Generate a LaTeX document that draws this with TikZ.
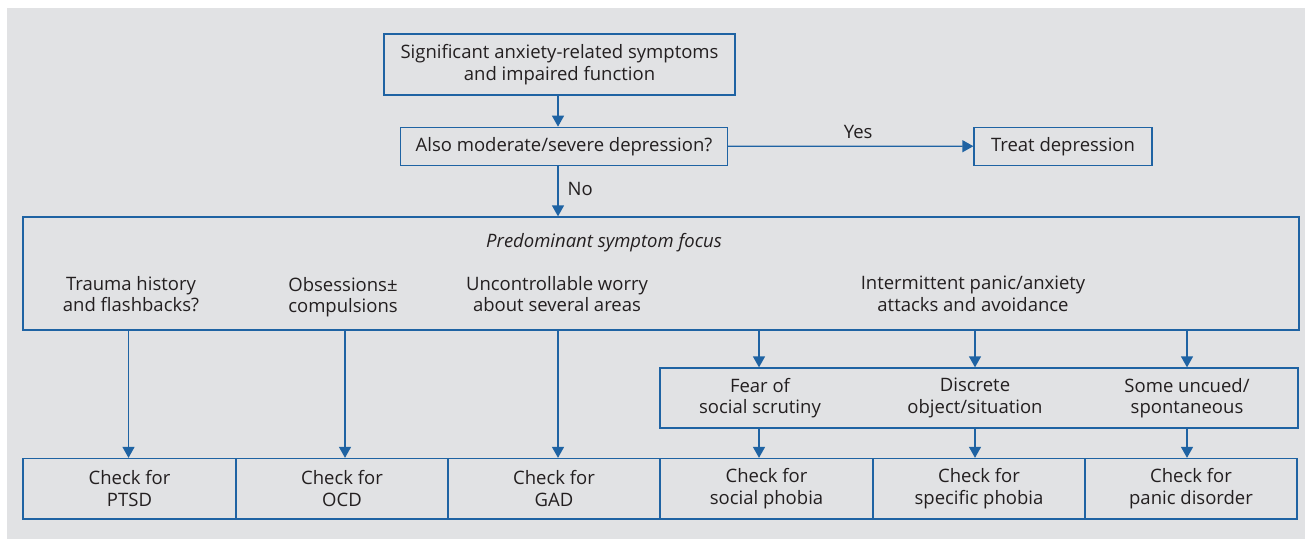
\documentclass[tikz,border=0pt]{standalone}
\usepackage{fontspec}
\setmainfont{Open Sans}
\usetikzlibrary{arrows.meta}
\definecolor{bgc}{HTML}{E1E2E4}
\definecolor{lnc}{HTML}{1F63A3}
\definecolor{txc}{HTML}{231F20}
\tikzset{
  box/.style={draw=lnc, line width=1.3pt, text=txc, align=center, inner sep=0pt, font=\fontsize{18.5}{21.5}\selectfont},
  lbl/.style={text=txc, align=center, inner sep=0pt, font=\fontsize{18.5}{21.5}\selectfont},
  arr/.style={draw=lnc, line width=1.3pt, -{Triangle[length=11pt,width=12pt]}},
}
\begin{document}
\begin{tikzpicture}[x=1pt,y=-1pt]
\useasboundingbox (0,0) rectangle (1305,539);
\fill[bgc] (7,8) rectangle (1305,539);
% top
\node[box, minimum width=351pt, minimum height=61pt] (top) at (559.5,64.4) {Significant anxiety-related symptoms\\and impaired function};
\node[box, minimum width=327pt, minimum height=38pt] (dep) at (564,146.3) {Also moderate/severe depression?};
\node[box, minimum width=178pt, minimum height=38pt] (treat) at (1063,146.2) {Treat depression};
\node[box, minimum width=1276pt, minimum height=113pt] (big) at (661,273.5) {};
\node[lbl, font=\fontsize{18.5}{21.5}\selectfont\itshape] (focus) at (604,243) {Predominant symptom focus};
\node[lbl] (trauma) at (131,294) {Trauma history\\and flashbacks?};
\node[lbl] (obs) at (343,297) {Obsessions±\\compulsions};
\node[lbl] (worry) at (557,294) {Uncontrollable worry\\about several areas};
\node[lbl] (inter) at (973,294) {Intermittent panic/anxiety\\attacks and avoidance};
% middle box
\node[box, minimum width=638pt, minimum height=60pt] (mid) at (979,398) {};
\node[lbl] (fear) at (760,398) {Fear of\\social scrutiny};
\node[lbl] (disc) at (975,398) {Discrete\\object/situation};
\node[lbl] (unc) at (1187,398) {Some uncued/\\spontaneous};
% check boxes
\node[box, minimum width=213pt, minimum height=60.5pt] (ptsd) at (129.5,488.75) {Check for\\PTSD};
\node[box, minimum width=212pt, minimum height=60.5pt] (ocd) at (342,488.75) {Check for\\OCD};
\node[box, minimum width=212pt, minimum height=60.5pt] (gad) at (554,488.75) {Check for\\GAD};
\node[box, minimum width=213pt, minimum height=60.5pt] (soc) at (766.5,488.75) {Check for\\social phobia};
\node[box, minimum width=212pt, minimum height=60.5pt] (spec) at (979,488.75) {Check for\\specific phobia};
\node[box, minimum width=212pt, minimum height=60.5pt] (pan) at (1191,488.75) {Check for\\panic disorder};
% column coordinates
\coordinate (cm) at (558,0);
\coordinate (c1) at (128.5,0);
\coordinate (c2) at (345,0);
\coordinate (c4) at (759,0);
\coordinate (c5) at (975,0);
\coordinate (c6) at (1187,0);
% connectors
\draw[arr] (top.south -| cm) -- (dep.north -| cm);
\draw[arr] (dep.south -| cm) -- node[lbl, right=9pt, pos=0.45] (no) {No} (big.north -| cm);
\draw[arr] (dep.east) -- node[lbl, above=7pt, pos=0.53] (yes) {Yes} (treat.west);
\draw[arr] (big.south -| c1) -- (ptsd.north -| c1);
\draw[arr] (big.south -| c2) -- (ocd.north -| c2);
\draw[arr] (big.south -| cm) -- (gad.north -| cm);
\draw[arr] (big.south -| c4) -- (mid.north -| c4);
\draw[arr] (big.south -| c5) -- (mid.north -| c5);
\draw[arr] (big.south -| c6) -- (mid.north -| c6);
\draw[arr] (mid.south -| c4) -- (soc.north -| c4);
\draw[arr] (mid.south -| c5) -- (spec.north -| c5);
\draw[arr] (mid.south -| c6) -- (pan.north -| c6);
\end{tikzpicture}
\end{document}
